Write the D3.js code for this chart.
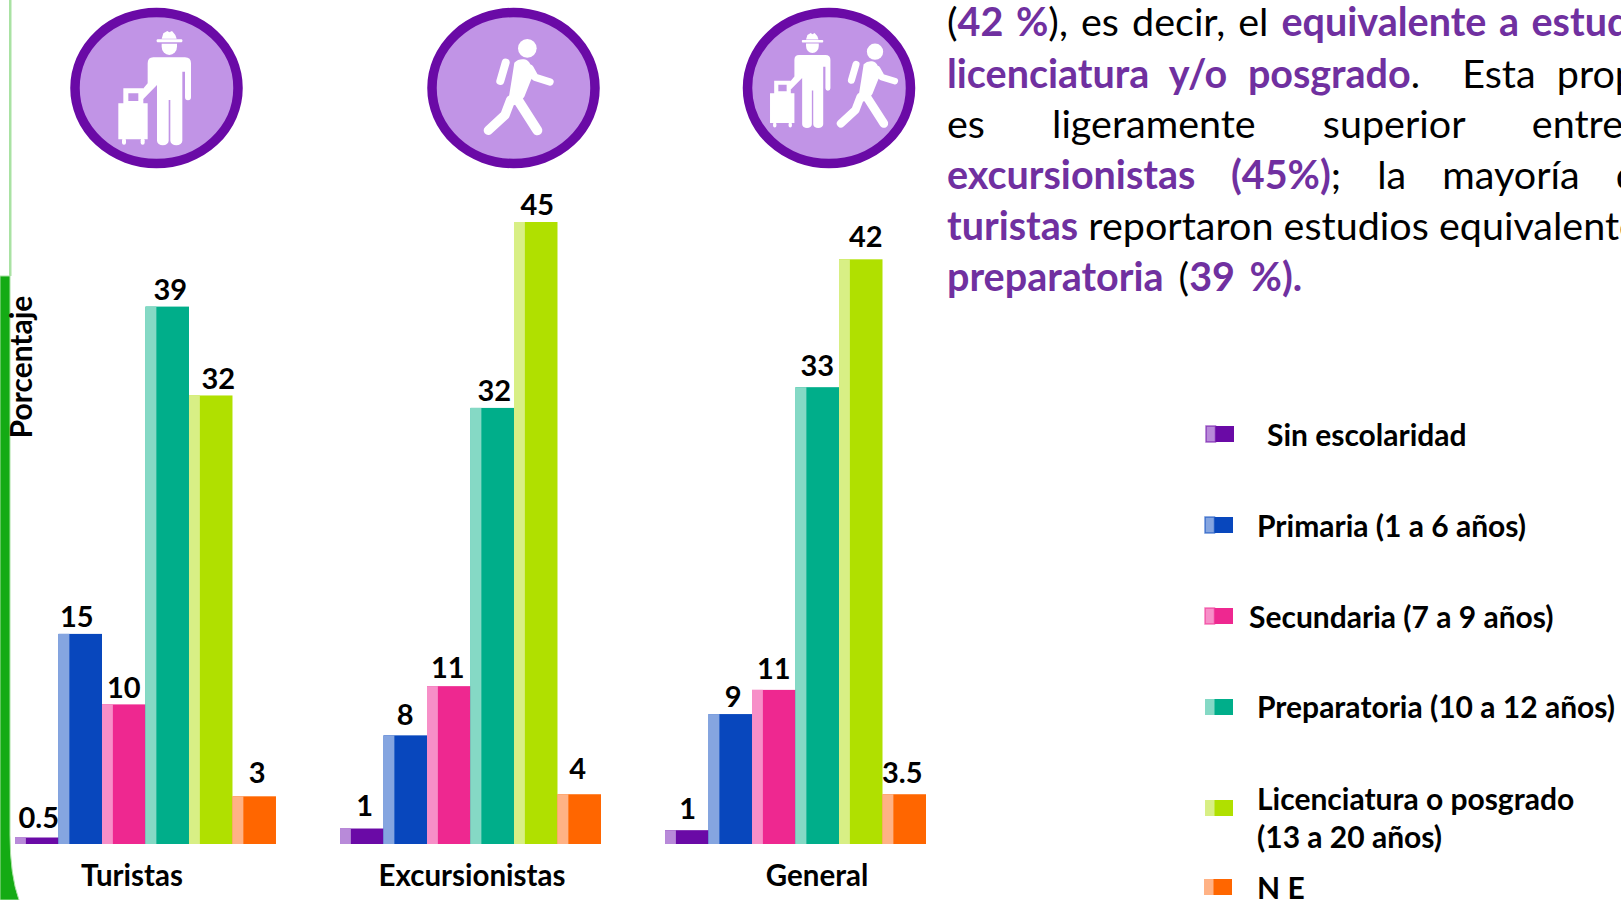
<!DOCTYPE html>
<html>
<head>
<meta charset="utf-8">
<script src="https://cdn.jsdelivr.net/npm/d3@7"></script>
<style>
  html, body { margin: 0; padding: 0; background: #fff; overflow: hidden; }
  text { font-family: Lato, "Open Sans", sans-serif; }
</style>
</head>
<body>
<script>
// Data
var groups = ["Turistas", "Excursionistas", "General"];
var levels = ["Sin escolaridad", "Primaria (1 a 6 años)", "Secundaria (7 a 9 años)",
  "Preparatoria (10 a 12 años)", "Licenciatura o posgrado (13 a 20 años)", "N E"];

// printed labels
var turistasLabels = ["0.5", "15", "10", "39", "32", "3"];
var excursionistasLabels = ["1", "8", "11", "32", "45", "4"];
var generalLabels = ["1", "9", "11", "33", "42", "3.5"];

// bar lengths as drawn (they don't always agree exactly with the printed label)
var turistasBars = [0.47, 15.2, 10.1, 38.88, 32.45, 3.45];
var excursionistasBars = [1.12, 7.86, 11.42, 31.55, 45, 3.6];
var generalBars = [1, 9.4, 11.15, 33.05, 42.3, 3.6];

var colors = ["#6a0aa6", "#0847bd", "#ee2890", "#00ae8a", "#b0e000", "#ff6600"];
var lightColors = ["#b88ad9", "#85a5e0", "#f78fc8", "#85d9c5", "#d8ef85", "#ffb285"];

// Define SVG area
var svgWidth = 1621;
var svgHeight = 900;

var svg = d3.select("body")
  .append("svg")
  .attr("width", svgWidth)
  .attr("height", svgHeight)
  .style("display", "block");

// green slide border on the left
svg.append("rect").attr("x", 9).attr("y", 0).attr("width", 2.5).attr("height", 276).attr("fill", "#a9e2a3");
svg.append("path")
  .attr("d", "M0,276 H10 V835 Q10,875 19,900 H0 Z")
  .attr("fill", "#14ab14")
  .attr("stroke", "#a9e2a3")
  .attr("stroke-width", 1);

// Scales
var xGroup = d3.scaleBand().domain(groups).range([15, 926]).paddingInner(0.197);
var xLevel = d3.scaleBand().domain(d3.range(6)).range([0, xGroup.bandwidth()]);
var y = d3.scaleLinear().domain([0, 45]).range([844, 222]);

var barRows = [turistasBars, excursionistasBars, generalBars];
var labelRows = [turistasLabels, excursionistasLabels, generalLabels];

// small label placement corrections, the labels were set by hand in the original
var labelDx = [[2, -3.5, 0, 3, 7.5, 3], [3, 0, -1, 2, 1.5, -1.5], [1, 3, 0, 0, 5, -2]];
var labelGap = [[10, 7, 6, 7, 6, 13], [13, 10, 8, 7, 7, 15], [11, 7.5, 11, 11.5, 12, 11.5]];

groups.forEach(function(group, g) {
  var chartGroup = svg.append("g")
    .attr("transform", "translate(" + xGroup(group) + ",0)");

  var bars = chartGroup.selectAll("g.bar")
    .data(barRows[g]).enter()
    .append("g")
    .attr("class", "bar");

  bars.append("rect")
    .attr("x", function(d, i) { return xLevel(i); })
    .attr("y", function(d) { return y(d); })
    .attr("width", xLevel.bandwidth())
    .attr("height", function(d) { return y(0) - y(d); })
    .attr("fill", function(d, i) { return colors[i]; });

  // lighter strip on the left of every bar
  bars.append("rect")
    .attr("x", function(d, i) { return xLevel(i); })
    .attr("y", function(d) { return y(d); })
    .attr("width", xLevel.bandwidth() * 0.25)
    .attr("height", function(d) { return y(0) - y(d); })
    .attr("fill", function(d, i) { return lightColors[i]; });

  bars.append("text")
    .attr("x", function(d, i) { return xLevel(i) + xLevel.bandwidth() / 2 + labelDx[g][i]; })
    .attr("y", function(d, i) { return y(d) - labelGap[g][i]; })
    .attr("text-anchor", "middle")
    .attr("font-size", "29px")
    .attr("font-weight", "bold")
    .attr("fill", "#000")
    .text(function(d, i) { return labelRows[g][i]; });
});

// category labels
var groupLabelX = [132, 472, 817];
svg.selectAll("text.group")
  .data(groups).enter()
  .append("text")
  .attr("class", "group")
  .attr("x", function(d, i) { return groupLabelX[i]; })
  .attr("y", 885.5)
  .attr("text-anchor", "middle")
  .attr("font-size", "29.5px")
  .attr("font-weight", "bold")
  .text(function(d) { return d; });

// y axis title
svg.append("text")
  .attr("transform", "translate(32,367) rotate(-90)")
  .attr("text-anchor", "middle")
  .attr("font-size", "30px")
  .attr("font-weight", "bold")
  .text("Porcentaje");

// Icons
function badge(cx) {
  svg.append("ellipse")
    .attr("cx", cx).attr("cy", 88)
    .attr("rx", 81.5).attr("ry", 75.5)
    .attr("fill", "#c194e6")
    .attr("stroke", "#6a0aa6")
    .attr("stroke-width", 9.5);
}

// coordinates are in a 3x local space
function tourist(tx, ty, s) {
  var g = svg.append("g")
    .attr("transform", "translate(" + tx + "," + ty + ") scale(" + s + ")")
    .attr("fill", "#fff");
  g.append("path").attr("d", "M155,56 L160,40 L172,33 L178,37 L186,33 L196,45 L200,56 Z");
  g.append("rect").attr("x", 140).attr("y", 58).attr("width", 77).attr("height", 9).attr("rx", 3);
  g.append("path").attr("d", "M155,71 H201 V80 A23,25 0 0 1 155,80 Z");
  g.append("path").attr("d", "M130,112 H225 Q243,112 243,130 V232 A9,9 0 0 1 225,232 V155 H217 V362 A18,14 0 0 1 181,362 V240 H176 V362 A17.5,14 0 0 1 141,362 V195 L100,237 L86,222 L113,190 V130 Q113,112 130,112 Z");
  g.append("path")
    .attr("fill-rule", "evenodd")
    .attr("d", "M40,205 H100 V250 H113 V358 H25 V250 H40 Z M55,220 V243 H85 V220 Z");
  g.append("rect").attr("x", 36).attr("y", 355).attr("width", 12).attr("height", 19).attr("rx", 6);
  g.append("rect").attr("x", 92).attr("y", 355).attr("width", 12).attr("height", 19).attr("rx", 6);
}

function walker(tx, ty, s) {
  var g = svg.append("g")
    .attr("transform", "translate(" + tx + "," + ty + ") scale(" + s + ")")
    .attr("fill", "#fff");
  g.append("circle").attr("cx", 322).attr("cy", 145).attr("r", 28);
  g.append("path").attr("d", "M283,188 Q295,176 312,178 Q326,180 332,195 L343,225 L333,240 L313,290 L296,312 L262,320 L275,240 Z");
  var strokes = [
    ["M257,188 L241,243", 24],
    ["M330,205 L345,232 L390,246", 22],
    ["M272,300 L255,345 L205,391", 28],
    ["M295,302 L352,391", 30]
  ];
  strokes.forEach(function(s) {
    g.append("path")
      .attr("d", s[0])
      .attr("fill", "none")
      .attr("stroke", "#fff")
      .attr("stroke-width", s[1])
      .attr("stroke-linecap", "round")
      .attr("stroke-linejoin", "round");
  });
}

badge(156.5);
tourist(110, 20, 1 / 3);
badge(513.5);
walker(420, 0, 1 / 3);
badge(829);
tourist(763.1, 23.9, 0.277);
walker(781.1, 9.4, 0.2917);

// Paragraph on the top right, it runs past the page edge in the original too
var purple = "#7030a0";
var paragraph = [
  { y: 36, ws: 3, parts: [["(", 0], ["42 %", 1], ["), es decir, el ", 0], ["equivalente a estudios de", 1]] },
  { y: 87.5, ws: 11, parts: [["licenciatura y/o posgrado", 1], [".  Esta proporción", 0]] },
  { y: 138, ws: 57, parts: [["es ligeramente superior entre los", 0]] },
  { y: 189, ws: 26, parts: [["excursionistas (45%)", 1], ["; la mayoría de", 0]] },
  { y: 240, ws: 0, parts: [["turistas", 1], [" reportaron estudios equivalentes", 0]] },
  { y: 291, ws: 5, parts: [["preparatoria", 1], [" (", 0], ["39 %).", 1]] }
];

paragraph.forEach(function(line) {
  var t = svg.append("text")
    .attr("x", 947)
    .attr("y", line.y)
    .attr("font-size", "39.5px")
    .style("white-space", "pre")
    .style("word-spacing", line.ws + "px");
  line.parts.forEach(function(p) {
    t.append("tspan")
      .attr("fill", p[1] ? purple : "#000")
      .attr("font-weight", p[1] ? "bold" : "normal")
      .text(p[0]);
  });
});

// Legend
var legendSwatchY = [426, 517, 608, 699, 800, 879];
var legendSwatchX = [1206, 1205, 1205, 1205, 1205, 1204];
var legendTextX = [1267, 1257, 1249, 1257, 1257, 1257];
var legendTextY = [446, 537, 628, 718, 810, 898.5];
var legendLines = [["Sin escolaridad"], ["Primaria (1 a 6 años)"], ["Secundaria (7 a 9 años)"],
  ["Preparatoria (10 a 12 años)"], ["Licenciatura o posgrado", "(13 a 20 años)"], ["N E"]];

levels.forEach(function(level, i) {
  svg.append("rect")
    .attr("x", legendSwatchX[i]).attr("y", legendSwatchY[i])
    .attr("width", 28).attr("height", 16)
    .attr("fill", colors[i]);
  svg.append("rect")
    .attr("x", legendSwatchX[i]).attr("y", legendSwatchY[i])
    .attr("width", 9.5).attr("height", 16)
    .attr("fill", lightColors[i])
    .attr("stroke", i < 3 ? d3.color(colors[i]).copy({ opacity: 0.6 }) : "none")
    .attr("stroke-width", i < 3 ? 1.5 : 0);
  legendLines[i].forEach(function(txt, k) {
    svg.append("text")
      .attr("x", legendTextX[i])
      .attr("y", legendTextY[i] + k * 38)
      .attr("font-size", "30px")
      .attr("font-weight", "bold")
      .text(txt);
  });
});
</script>
</body>
</html>
